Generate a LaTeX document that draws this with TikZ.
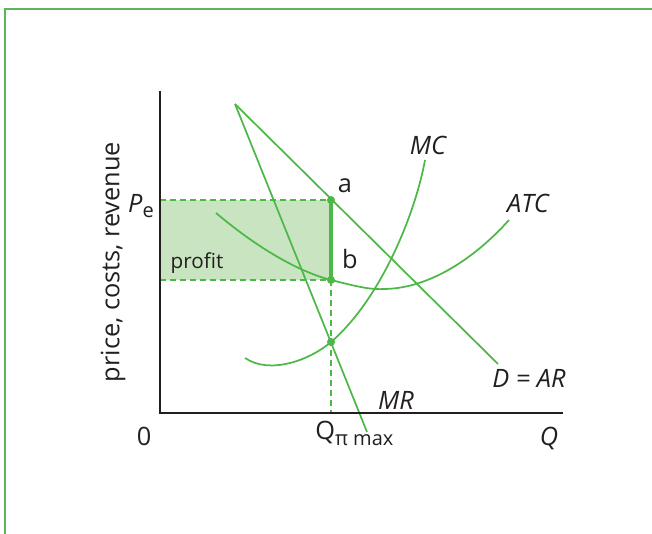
\documentclass[tikz,border=0pt]{standalone}
\usepackage{fontspec}
\setmainfont{Open Sans}
\definecolor{framec}{HTML}{5DB55A}
\definecolor{curveg}{HTML}{4DB848}
\definecolor{fillg}{HTML}{C8E4C0}
\definecolor{ink}{HTML}{231F20}
\begin{document}
\begin{tikzpicture}[x=0.75pt,y=-0.75pt,
  curve/.style={draw=curveg,line width=1.3pt},
  guide/.style={draw=curveg,line width=0.8pt,dash pattern=on 4.5pt off 3pt},
  axis/.style={draw=ink,line width=1.5pt},
  dot/.style={circle,fill=curveg,inner sep=0pt,minimum size=6pt},
  lbl/.style={text=ink,font=\fontsize{19}{22}\selectfont,inner sep=0pt},
  ilbl/.style={lbl,font=\fontsize{19}{22}\selectfont\itshape}]
\useasboundingbox (0,0) rectangle (652,534);
% frame
\draw[framec,line width=1.3pt] (5,534) -- (5,9) -- (652,9);
% coordinates
\coordinate (O) at (160,413);
\coordinate (ytop) at (160,91);
\coordinate (xend) at (563,413);
\coordinate (pe) at (160,200);
\coordinate (pb) at (160,280);
\coordinate (a) at (331,200);
\coordinate (b) at (331,280);
\coordinate (c) at (331,342);
\coordinate (qa) at (331,413);
\coordinate (top) at (235,104);
\coordinate (dend) at (498,364);
\coordinate (mrend) at (367,432);
% profit area
\fill[fillg] (pe) rectangle (b);
\draw[guide] (pe) -- (a);
\draw[guide] (pb) -- (b);
\draw[guide] (b) -- (qa);
% curves
\draw[curve] (top) -- (dend);
\draw[curve] (top) -- (mrend);
\draw[curve] (245,358) .. controls (270,375) and (310,360) .. (c)
  .. controls (380,300) and (415,215) .. (425,160);
\draw[curve] (216,213) .. controls (260,250) and (300,272) .. (b)
  .. controls (355,286) and (370,290) .. (385,289)
  .. controls (430,288) and (475,258) .. (509,220);
\draw[curveg,line width=2.8pt] (a) -- (b);
\node[dot] (da) at (a) {};
\node[dot] (db) at (b) {};
\node[dot] (dc) at (c) {};
% axes
\draw[axis] (ytop) -- (O) -- (xend);
% labels
\node[lbl,rotate=90] (ylab) at (113,262) {price, costs, revenue};
\node[lbl] (zero) at (144,436) {0};
\node[lbl,anchor=base] (pel) at (141,213) {\textit{P}\raisebox{-0.3ex}{\fontsize{15}{17}\selectfont e}};
\node[lbl,font=\fontsize{15.5}{18}\selectfont] (profit) at (197,263) {profit};
\node[lbl] (la) at (345,186) {a};
\node[lbl] (lb) at (350,259) {b};
\node[ilbl] (mc) at (428,145) {MC};
\node[ilbl] (atc) at (528,203) {ATC};
\node[ilbl] (dar) at (529,378) {D = AR};
\node[ilbl] (mr) at (396,400) {MR};
\node[ilbl] (q) at (549,438) {Q};
\node[lbl,anchor=base west] (qpi) at (315,439) {Q\raisebox{-0.45ex}{\fontsize{15}{17}\selectfont π max}};
\end{tikzpicture}
\end{document}
